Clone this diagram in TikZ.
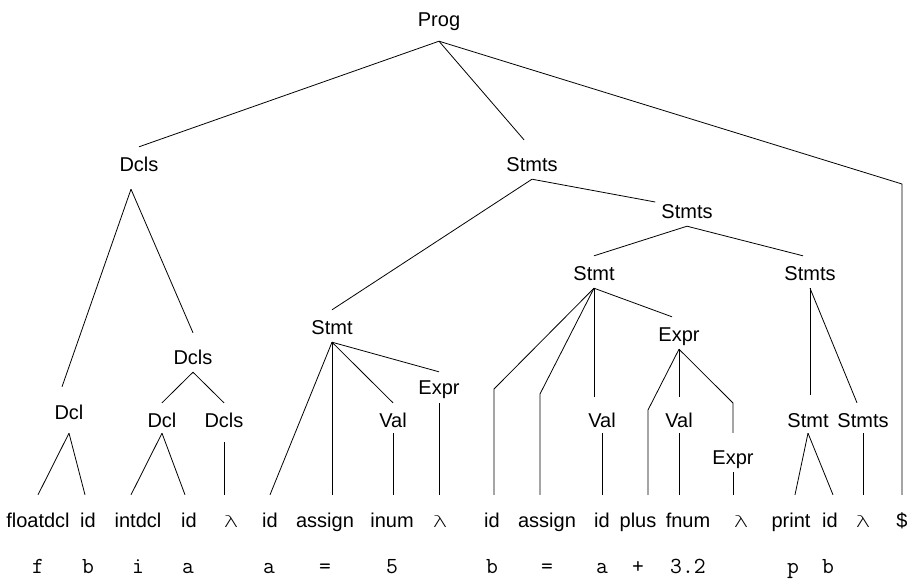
\documentclass[tikz,border=0pt]{standalone}
\usepackage{fontspec}
\usepackage{graphicx}
\setmainfont{Liberation Sans}
\newfontfamily\lamfont{DejaVu Sans ExtraLight}
\newcommand{\lam}{\resizebox{15pt}{12pt}{\lamfont λ}}
\begin{document}
\begin{tikzpicture}[x=1pt,y=-1pt,
  every node/.style={inner sep=0pt, font=\fontsize{20}{24}\selectfont},
  nt/.style={anchor=base, text height=24pt, text depth=8pt},
  lvl/.style={nt, text height=24pt, text depth=6pt},
  leaf/.style={anchor=base, text height=32pt, text depth=4pt},
  tok/.style={anchor=base, font=\ttfamily\fontsize{23}{26}\selectfont},
  edge/.style={line width=0.8pt}]
\useasboundingbox (0,0) rectangle (911,579);

% interior nodes of the parse tree
\node[nt, text depth=15pt] (prog)   at (439,26)  {Prog};
\node[nt, text depth=18pt] (dclsA)  at (139,171) {Dcls};
\node[nt]                  (stmtsA) at (532,171) {Stmts};
\node[nt]                  (stmtsB) at (687,218) {Stmts};
\node[nt]                  (stmtB)  at (594,280) {Stmt};
\node[nt]                  (stmtsC) at (810,280) {Stmts};
\node[nt]                  (stmtA)  at (332,334) {Stmt};
\node[nt]                  (exprB)  at (679,341) {Expr};
\node[nt, text height=31pt] (dclsB) at (193,364) {Dcls};
\node[nt, text height=22pt, text depth=9pt] (exprA) at (439,394) {Expr};
\node[nt, text height=32pt, text depth=14pt] (dclA) at (69,419) {Dcl};
\node[lvl]                 (dclB)   at (162,427) {Dcl};
\node[lvl, text depth=15pt] (dclsC) at (224,427) {Dcls};
\node[lvl]                 (valA)   at (393,427) {Val};
\node[lvl]                 (valB)   at (602,427) {Val};
\node[lvl]                 (valC)   at (679,427) {Val};
\node[lvl]                 (stmtC)  at (808,427) {Stmt};
\node[lvl]                 (stmtsD) at (863,427) {Stmts};
\node[nt, text height=31pt] (exprC) at (733,464) {Expr};

% leaves (terminals)
\node[leaf] (floatdcl) at (38,527)  {floatdcl};
\node[leaf] (idA)      at (88,527)  {id};
\node[leaf] (intdcl)   at (138,527) {intdcl};
\node[leaf] (idB)      at (189,527) {id};
\node[leaf] (lamA)     at (231,527) {\lam};
\node[leaf] (idC)      at (270,527) {id};
\node[leaf] (assignA)  at (325,527) {assign};
\node[leaf] (inum)     at (392,527) {inum};
\node[leaf] (lamB)     at (440,527) {\lam};
\node[leaf] (idD)      at (492,527) {id};
\node[leaf] (assignB)  at (547,527) {assign};
\node[leaf] (idE)      at (602,527) {id};
\node[leaf] (plus)     at (638,527) {plus};
\node[leaf] (fnum)     at (688,527) {fnum};
\node[leaf] (lamC)     at (741,527) {\lam};
\node[leaf] (print)    at (791,527) {print};
\node[leaf] (idF)      at (830,527) {id};
\node[leaf] (lamD)     at (863,527) {\lam};
\node[leaf] (dollar)   at (902,527) {\$};

% source tokens
\node[tok] (tf)  at (38,573)  {f};
\node[tok] (tb)  at (88,573)  {b};
\node[tok] (ti)  at (138,573) {i};
\node[tok] (ta)  at (188,573) {a};
\node[tok] (ta2) at (269,573) {a};
\node[tok] (teq) at (325,573) {=};
\node[tok] (t5)  at (392,573) {5};
\node[tok] (tb2) at (492,573) {b};
\node[tok] (teq2) at (547,573) {=};
\node[tok] (ta3) at (602,573) {a};
\node[tok] (tpl) at (638,573) {+};
\node[tok] (t32) at (688,573) {3.2};
\node[tok] (tp)  at (793,573) {p};
\node[tok] (tb3) at (828,573) {b};

% bends of the longer branches
\coordinate (kd) at (902,184);
\coordinate (k2) at (494,389);
\coordinate (k3) at (540,394);
\coordinate (k4) at (648,410);
\coordinate (k5) at (733,403);

% branches
\draw[edge] (prog.south) -- (dclsA.north);
\draw[edge] (prog.south) -- ([xshift=-8pt,yshift=7pt]stmtsA.north);
\draw[edge] (prog.south) -- (kd) -- (kd |- dollar.north);

\draw[edge] ([xshift=-8pt]dclsA.south) -- ([xshift=-7pt]dclA.north);
\draw[edge] ([xshift=-8pt]dclsA.south) -- (dclsB.north);
\draw[edge] (dclsB.south) -- (dclB.north);
\draw[edge] (dclsB.south) -- (dclsC.north);
\draw[edge] (dclA.south) -- (floatdcl.north);
\draw[edge] (dclA.south) -- ([xshift=-3pt]idA.north);
\draw[edge] (dclB.south) -- ([xshift=-7pt]intdcl.north);
\draw[edge] (dclB.south) -- ([xshift=-4pt]idB.north);
\draw[edge] (dclsC.south) -- (dclsC.south |- lamA.north);

\draw[edge] (stmtsA.south) -- (stmtA.north);
\draw[edge] (stmtsA.south) -- ([xshift=-6pt,yshift=8pt]stmtsB.west);
\draw[edge] (stmtsB.south) -- (stmtB.north);
\draw[edge] (stmtsB.south) -- ([xshift=-7pt]stmtsC.north);

\draw[edge] (stmtA.south) -- (idC.north);
\draw[edge] (stmtA.south) -- (stmtA.south |- assignA.north);
\draw[edge] (stmtA.south) -- (valA.north);
\draw[edge] (stmtA.south) -- (exprA.north);
\draw[edge] (valA.south) -- (valA.south |- inum.north);
\draw[edge] (exprA.south) -- (exprA.south |- lamB.north);

\draw[edge] (stmtB.south) -- (k2) -- (k2 |- idD.north);
\draw[edge] (stmtB.south) -- (k3) -- (k3 |- assignB.north);
\draw[edge] (stmtB.south) -- ([yshift=6pt]stmtB.south |- valB.north);
\draw[edge] (stmtB.south) -- ([xshift=-7pt]exprB.north);
\draw[edge] (valB.south) -- (valB.south |- idE.north);
\draw[edge] (exprB.south) -- (k4) -- (k4 |- plus.north);
\draw[edge] (exprB.south) -- ([yshift=6pt]valC.north);
\draw[edge] (valC.south) -- (valC.south |- fnum.north);
\draw[edge] (exprB.south) -- (k5) -- (k5 |- exprC.north);
\draw[edge] (exprC.south) -- (exprC.south |- lamC.north);

\draw[edge] (stmtsC.south) -- ([yshift=8pt]stmtsC.south |- stmtC.north);
\draw[edge] (stmtsC.south) -- ([xshift=-6pt]stmtsD.north);
\draw[edge] (stmtC.south) -- ([xshift=4pt]print.north);
\draw[edge] (stmtC.south) -- ([xshift=3pt]idF.north);
\draw[edge] (stmtsD.south) -- (stmtsD.south |- lamD.north);
\end{tikzpicture}
\end{document}
